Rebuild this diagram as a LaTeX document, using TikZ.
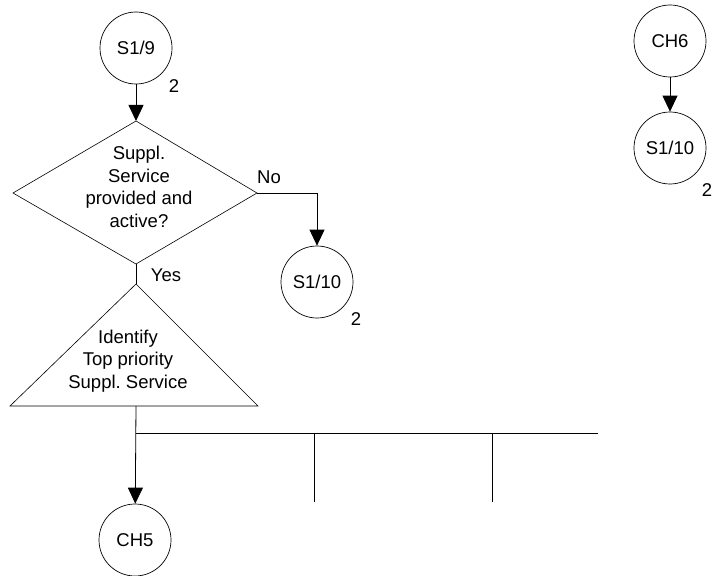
\documentclass[tikz,border=0pt]{standalone}
\usepackage{fontspec}
\setmainfont{Liberation Sans}
\usetikzlibrary{arrows.meta,calc}
\frenchspacing
\begin{document}
\begin{tikzpicture}[x=1pt,y=-1pt,
  every node/.style={font=\fontsize{18.5}{22.5}\selectfont},
  conn/.style={draw,circle,minimum size=72pt,inner sep=0pt,line width=0.7pt},
  flow/.style={line width=0.8pt},
  arr/.style={flow,-{Triangle[width=15pt,length=16pt]}},
  tag/.style={inner sep=0pt},
  txt/.style={align=center,inner sep=0pt}]
\useasboundingbox (0,0) rectangle (714,575);

% left column: entry connector
\node[conn] (s19) at (136,48) {S1/9};
\node[tag] at (174,86) {2};

% decision diamond
\coordinate (dt) at (136,121);
\coordinate (db) at (136,264);
\coordinate (dl) at (13,193);
\coordinate (dr) at (257,193);
\draw[line width=0.6pt] (dt) -- (dr) -- (db) -- (dl) -- cycle;
\node[txt] (q) at (139,187) {Suppl.\\Service\\provided and\\active?};
\draw[arr] (s19) -- (dt);

% "No" branch
\node[tag] (no) at (269,177) {No};
\node[conn] (s110a) at (317,282) {S1/10};
\node[tag] at (356,319) {2};
\coordinate (nc) at (317,193);
\draw[arr] (dr) -- (nc) -- (s110a);

% "Yes" branch into the triangle
\node[tag] (yes) at (166,275) {Yes};
\coordinate (ta) at (136,284);
\coordinate (tl) at (10,406);
\coordinate (tr) at (258,406);
\draw[line width=0.6pt] (ta) -- (tr) -- (tl) -- cycle;
\draw[flow] (db) -- (ta);
\node[txt] (id) at (128,361) {Identify\\Top priority\\Suppl. Service};

% branching bus below the triangle
\node[conn] (ch5) at (135,540) {CH5};
\coordinate (tb) at (136,406);
\coordinate (bus0) at (136,433);
\coordinate (bus1) at (314,433);
\coordinate (bus2) at (492,433);
\coordinate (busE) at (598,433);
\coordinate (b1e) at (314,502);
\coordinate (b2e) at (492,502);
\draw[arr] (tb) -- (ch5);
\draw[flow] (bus0) -- (busE);
\draw[flow] (bus1) -- (b1e);
\draw[flow] (bus2) -- (b2e);

% right column
\node[conn] (ch6) at (670,41) {CH6};
\node[conn] (s110b) at (670,148) {S1/10};
\node[tag] at (707,190) {2};
\draw[arr] (ch6) -- (s110b);
\end{tikzpicture}
\end{document}
